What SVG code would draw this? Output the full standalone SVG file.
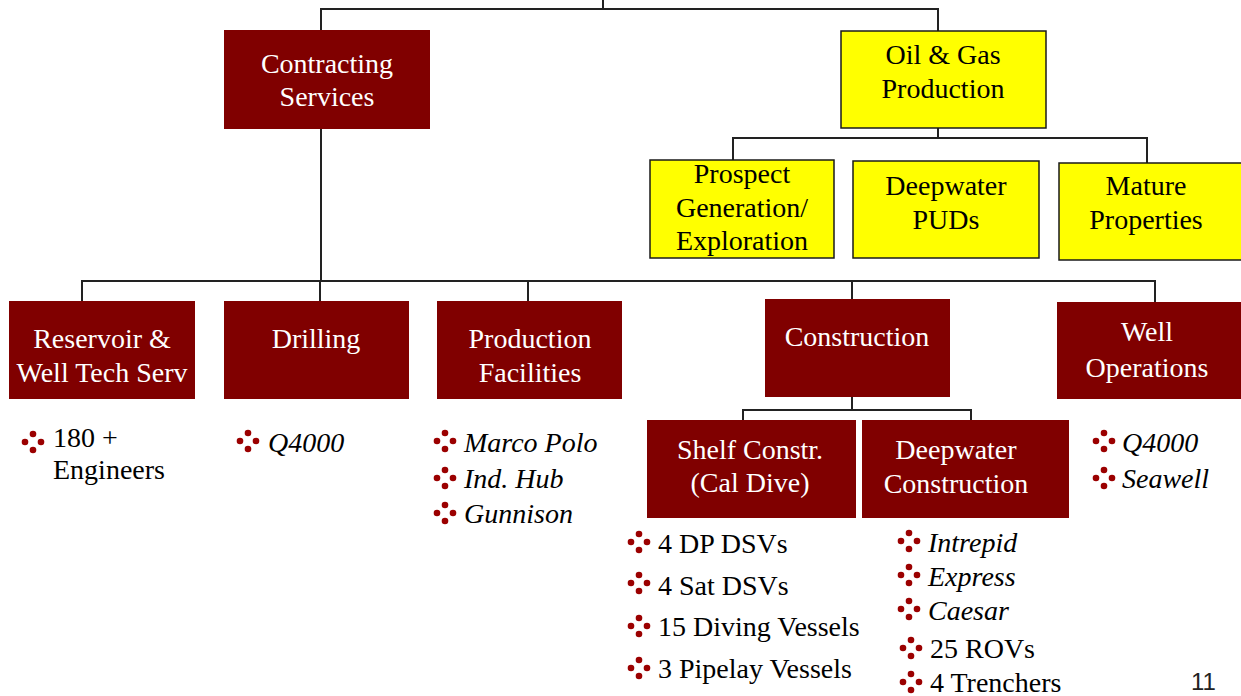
<svg xmlns="http://www.w3.org/2000/svg" xmlns:xlink="http://www.w3.org/1999/xlink" width="1241" height="696" viewBox="0 0 1241 696">
<style>
.red{fill:#800000;}
.yel{fill:#ffff00;stroke:#1a1a1a;stroke-width:1.5;}
.lw{font-family:"Liberation Serif","Times New Roman",serif;font-size:28px;fill:#ffffff;text-anchor:middle;}
.lb{font-family:"Liberation Serif","Times New Roman",serif;font-size:28px;fill:#000000;text-anchor:middle;}
.it{font-family:"Liberation Serif","Times New Roman",serif;font-size:28px;fill:#000000;}
.i{font-style:italic;}
.con{stroke:#222222;stroke-width:2;fill:none;}
</style>
<defs>
<g id="bul" fill="#9b0000">
<circle cx="0" cy="-8" r="3.3"/>
<circle cx="-8" cy="0" r="3.3"/>
<circle cx="8" cy="0" r="3.3"/>
<circle cx="0" cy="8" r="3.3"/>
</g>
</defs>
<rect width="1241" height="696" fill="#ffffff"/>
<g id="connectors" class="con">
<path d="M603 0V9M321 30V9H938V31"/>
<path d="M938 128V138M733 160V138H1147V163"/>
<path d="M321 129V281M82 301V281H1155V302M320 281V301M528 281V301M852 281V299"/>
<path d="M852 397V410M743 420V410H971V420"/>
</g>
<g id="contracting"><rect class="red" x="224" y="30" width="206" height="99"/><text class="lw" x="327" y="73">Contracting</text><text class="lw" x="327" y="106">Services</text></g>
<g id="oilgas"><rect class="yel" x="841" y="31" width="205" height="97"/><text class="lb" x="943" y="64">Oil &amp; Gas</text><text class="lb" x="943" y="98">Production</text></g>
<g id="prospect"><rect class="yel" x="650" y="160" width="184" height="98"/><text class="lb" x="742" y="183">Prospect</text><text class="lb" x="742" y="217">Generation/</text><text class="lb" x="742" y="250">Exploration</text></g>
<g id="deeppuds"><rect class="yel" x="853" y="161" width="186" height="97"/><text class="lb" x="946" y="195">Deepwater</text><text class="lb" x="946" y="229">PUDs</text></g>
<g id="mature"><rect class="yel" x="1059" y="163" width="190" height="97"/><text class="lb" x="1146" y="195">Mature</text><text class="lb" x="1146" y="229">Properties</text></g>
<g id="reservoir"><rect class="red" x="9" y="301" width="186" height="98"/><text class="lw" x="102" y="348">Reservoir &amp;</text><text class="lw" x="102" y="382">Well Tech Serv</text></g>
<g id="drilling"><rect class="red" x="224" y="301" width="185" height="98"/><text class="lw" x="316" y="348">Drilling</text></g>
<g id="production"><rect class="red" x="437" y="301" width="185" height="98"/><text class="lw" x="530" y="348">Production</text><text class="lw" x="530" y="382">Facilities</text></g>
<g id="construction"><rect class="red" x="765" y="299" width="185" height="98"/><text class="lw" x="857" y="346">Construction</text></g>
<g id="wellops"><rect class="red" x="1057" y="302" width="190" height="97"/><text class="lw" x="1147" y="341">Well</text><text class="lw" x="1147" y="377">Operations</text></g>
<g id="shelf"><rect class="red" x="647" y="420" width="209" height="98"/><text class="lw" x="750" y="459">Shelf Constr.</text><text class="lw" x="750" y="492">(Cal Dive)</text></g>
<g id="deepconst"><rect class="red" x="862" y="420" width="207" height="98"/><text class="lw" x="956" y="459">Deepwater</text><text class="lw" x="956" y="493">Construction</text></g>
<g id="list-reservoir"><use xlink:href="#bul" x="33" y="442"/><text class="it" x="53" y="447">180 +</text><text class="it" x="53" y="479">Engineers</text></g>
<g id="list-drilling"><use xlink:href="#bul" x="248" y="441"/><text class="it i" x="268" y="452">Q4000</text></g>
<g id="list-production"><use xlink:href="#bul" x="445" y="441"/><text class="it i" x="464" y="452">Marco Polo</text><use xlink:href="#bul" x="445" y="478"/><text class="it i" x="464" y="488">Ind. Hub</text><use xlink:href="#bul" x="445" y="513"/><text class="it i" x="464" y="523">Gunnison</text></g>
<g id="list-shelf"><use xlink:href="#bul" x="639" y="542"/><text class="it" x="658" y="553">4 DP DSVs</text><use xlink:href="#bul" x="639" y="583"/><text class="it" x="658" y="595">4 Sat DSVs</text><use xlink:href="#bul" x="639" y="626"/><text class="it" x="658" y="636">15 Diving Vessels</text><use xlink:href="#bul" x="639" y="668"/><text class="it" x="658" y="678">3 Pipelay Vessels</text></g>
<g id="list-deep"><use xlink:href="#bul" x="909" y="541"/><text class="it i" x="928" y="552">Intrepid</text><use xlink:href="#bul" x="909" y="575"/><text class="it i" x="928" y="586">Express</text><use xlink:href="#bul" x="909" y="609"/><text class="it i" x="928" y="620">Caesar</text><use xlink:href="#bul" x="911" y="648"/><text class="it" x="930" y="658">25 ROVs</text><use xlink:href="#bul" x="911" y="682"/><text class="it" x="930" y="692">4 Trenchers</text></g>
<g id="list-wellops"><use xlink:href="#bul" x="1104" y="441"/><text class="it i" x="1122" y="452">Q4000</text><use xlink:href="#bul" x="1104" y="478"/><text class="it i" x="1122" y="488">Seawell</text></g>
<text x="1191" y="690" font-family="'Liberation Sans',Arial,sans-serif" font-size="24" fill="#222222">11</text>
</svg>
